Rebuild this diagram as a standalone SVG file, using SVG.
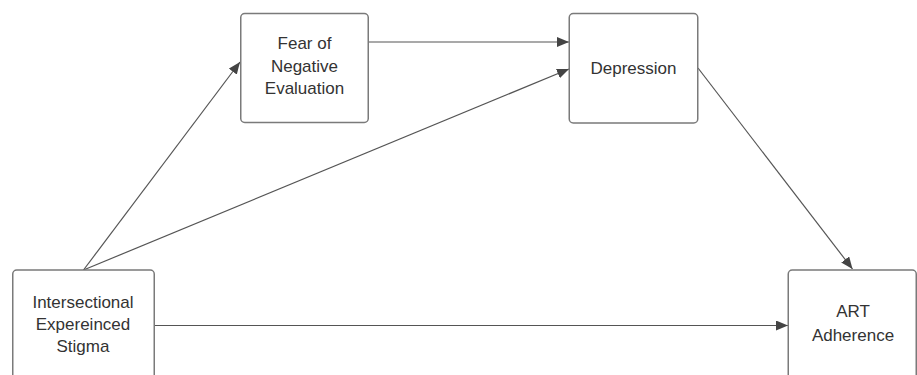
<svg xmlns="http://www.w3.org/2000/svg" width="917" height="375" viewBox="0 0 917 375">
<style>
.box{fill:#fff;stroke:#7a7a7a;stroke-width:1.5}
.lbl{font-family:"Liberation Sans",Arial,sans-serif;font-size:17px;fill:#333;text-anchor:middle}
.edge{fill:none;stroke:#555;stroke-width:1.2;marker-end:url(#ah)}
</style>
<defs>
<marker id="ah" viewBox="0 0 12 10" refX="12" refY="5" markerWidth="12" markerHeight="10" markerUnits="userSpaceOnUse" orient="auto">
<path d="M0,0 L12,5 L0,10 Z" fill="#444"/>
</marker>
</defs>
<rect width="917" height="375" fill="#fff"/>
<g id="connectors">
<line class="edge" x1="83.5" y1="270" x2="240" y2="62"/>
<line class="edge" x1="83.5" y1="270" x2="569" y2="69"/>
<line class="edge" x1="368" y1="42" x2="569" y2="42"/>
<line class="edge" x1="698" y1="68" x2="852.5" y2="269"/>
<line class="edge" x1="154" y1="325.5" x2="788" y2="325.5"/>
</g>
<g id="stigma">
<rect class="box" x="12.75" y="270" width="141.5" height="120" rx="4"/>
<text class="lbl" x="83" y="308">Intersectional</text>
<text class="lbl" x="83" y="330">Expereinced</text>
<text class="lbl" x="83" y="352">Stigma</text>
</g>
<g id="fear">
<rect class="box" x="240.75" y="13.5" width="127.5" height="109" rx="4"/>
<text class="lbl" x="304.5" y="49">Fear of</text>
<text class="lbl" x="304.5" y="71.5">Negative</text>
<text class="lbl" x="304.5" y="94">Evaluation</text>
</g>
<g id="depression">
<rect class="box" x="569.25" y="13.5" width="128.5" height="109.5" rx="4"/>
<text class="lbl" x="633.5" y="74">Depression</text>
</g>
<g id="art">
<rect class="box" x="788.25" y="270" width="128" height="120" rx="4"/>
<text class="lbl" x="853" y="317">ART</text>
<text class="lbl" x="853" y="341">Adherence</text>
</g>
</svg>
